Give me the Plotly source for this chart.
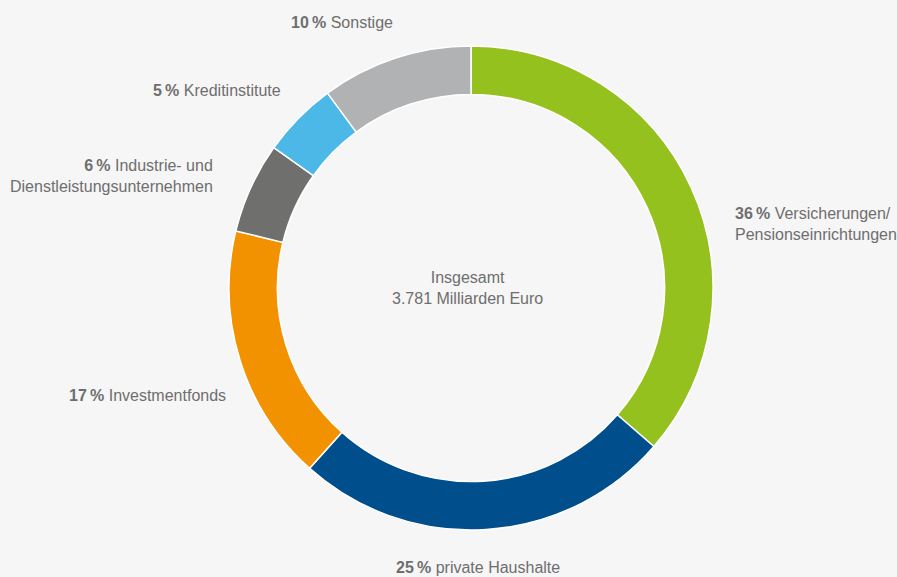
import plotly.graph_objects as go

# Shares of holders, clockwise from 12 o'clock
categories = [
    "Versicherungen/ Pensionseinrichtungen",
    "private Haushalte",
    "Investmentfonds",
    "Industrie- und Dienstleistungsunternehmen",
    "Kreditinstitute",
    "Sonstige",
]
shares = [36, 25, 17, 6, 5, 10]
label_lines = [
    ["Versicherungen/", "Pensionseinrichtungen"],
    ["private Haushalte"],
    ["Investmentfonds"],
    ["Industrie- und", "Dienstleistungsunternehmen"],
    ["Kreditinstitute"],
    ["Sonstige"],
]
colors = ["#95c11f", "#004f8c", "#f39200", "#6f6f6e", "#4bb8e8", "#b1b2b3"]
center_text = ["Insgesamt", "3.781 Milliarden Euro"]

W, H = 897, 577
BG = "#f6f6f6"
TXT = "#6e6e6e"
FONT = "Liberation Sans, Arial, Helvetica, sans-serif"
FS = 16

# donut geometry in pixels
cx, cy, R = 471, 288, 242

fig = go.Figure(
    go.Pie(
        labels=categories,
        values=shares,
        hole=0.8,
        sort=False,
        direction="clockwise",
        rotation=0,
        marker=dict(colors=colors, line=dict(color="white", width=1.5)),
        textinfo="none",
        hoverinfo="label+percent",
        showlegend=False,
        domain=dict(
            x=[(cx - R) / W, (cx + R) / W],
            y=[(H - cy - R) / H, (H - cy + R) / H],
        ),
    )
)

# label placement: (x px, y px of block centre, xanchor)
label_pos = [
    (733, 224, "left"),
    (478, 567, "center"),
    (228, 395, "right"),
    (215, 176, "right"),
    (283, 90, "right"),
    (395, 22, "right"),
]

annotations = []
for share, lines, (px, py, anchor) in zip(shares, label_lines, label_pos):
    first = f"<b>{share}\u2009%</b> {lines[0]}"
    text = "<br>".join([first] + lines[1:])
    annotations.append(
        dict(
            x=px / W, y=1 - py / H, xref="paper", yref="paper",
            text=text, showarrow=False, xanchor=anchor, yanchor="middle",
            align=anchor,
            font=dict(family=FONT, size=FS, color=TXT),
        )
    )

annotations.append(
    dict(
        x=467 / W, y=1 - 288 / H, xref="paper", yref="paper",
        text="<br>".join(center_text), showarrow=False,
        xanchor="center", yanchor="middle", align="center",
        font=dict(family=FONT, size=FS, color=TXT),
    )
)

fig.update_layout(
    width=W, height=H,
    margin=dict(l=0, r=0, t=0, b=0),
    paper_bgcolor=BG, plot_bgcolor=BG,
    annotations=annotations,
)

fig.write_html("out.html")
